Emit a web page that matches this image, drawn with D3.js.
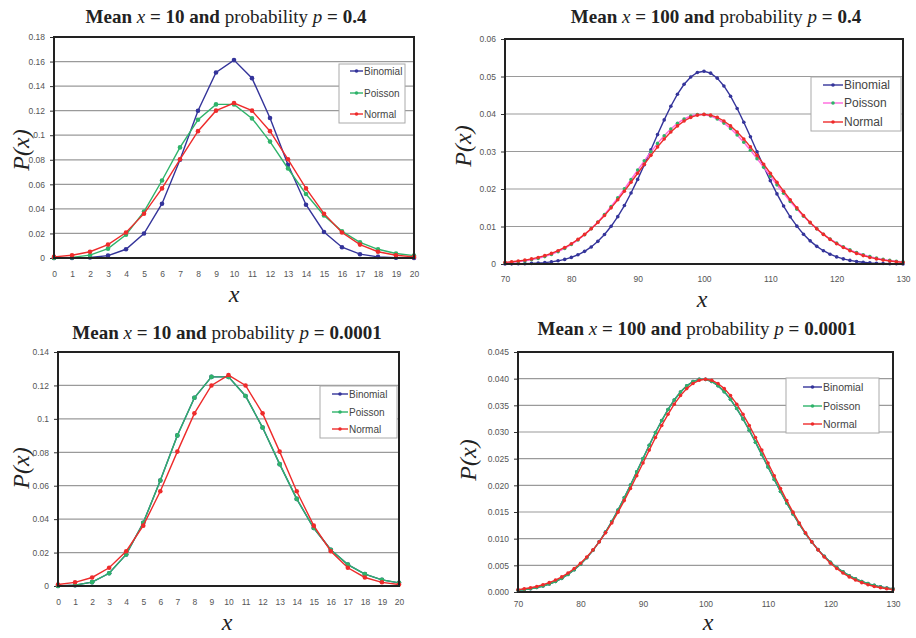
<!DOCTYPE html>
<html>
<head>
<meta charset="utf-8">
<script src="https://cdn.jsdelivr.net/npm/d3@7"></script>
<style>
  body { margin: 0; background: #fff; }
  .tick text { font-family: "Liberation Sans", Arial, sans-serif; font-size: 8.5px; fill: #555; }
  .tick line { stroke: #333; }
  .domain { display: none; }
  .title { font-family: "Liberation Serif", "Times New Roman", serif; font-size: 19px; fill: #222; }
  .axlab { font-family: "Liberation Serif", "Times New Roman", serif; font-style: italic; font-size: 24px; fill: #222; }
  .legtext { font-family: "Liberation Sans", Arial, sans-serif; fill: #444; }
</style>
</head>
<body>
<div id="chart"></div>
<script>
// x categories
var x20 = [0,1,2,3,4,5,6,7,8,9,10,11,12,13,14,15,16,17,18,19,20];
var x100 = d3.range(70, 131);

// mean 10
var binom10p4 = [0.0000,0.0000,0.0004,0.0019,0.0071,0.0199,0.0442,0.0800,0.1199,0.1511,0.1612,0.1465,0.1140,0.0760,0.0434,0.0212,0.0088,0.0031,0.0009,0.0002,0.0000];
var poisson10 = [0.0000,0.0005,0.0023,0.0076,0.0189,0.0378,0.0631,0.0901,0.1126,0.1251,0.1251,0.1137,0.0948,0.0729,0.0521,0.0347,0.0217,0.0128,0.0071,0.0037,0.0019];
var normal10 = [0.0009,0.0022,0.0051,0.0109,0.0208,0.0361,0.0567,0.0804,0.1033,0.1200,0.1262,0.1200,0.1033,0.0804,0.0567,0.0361,0.0208,0.0109,0.0051,0.0022,0.0009];
var binom10p0001 = [0.0000,0.0005,0.0023,0.0076,0.0189,0.0378,0.0631,0.0901,0.1126,0.1251,0.1251,0.1137,0.0948,0.0729,0.0521,0.0347,0.0217,0.0128,0.0071,0.0037,0.0019];

// mean 100
var binom100p4 = [0.00002,0.00004,0.00006,0.00010,0.00016,0.00025,0.00038,0.00057,0.00085,0.00123,
  0.00176,0.00246,0.00337,0.00455,0.00604,0.00786,0.01005,0.01263,0.01559,0.01892,
  0.02256,0.02645,0.03047,0.03451,0.03843,0.04207,0.04528,0.04792,0.04988,0.05106,
  0.05140,0.05089,0.04956,0.04747,0.04474,0.04147,0.03782,0.03393,0.02995,0.02601,
  0.02223,0.01869,0.01546,0.01259,0.01009,0.00795,0.00617,0.00471,0.00354,0.00262,
  0.00190,0.00136,0.00096,0.00067,0.00046,0.00031,0.00020,0.00013,0.00008,0.00005,0.00003];
var poisson100 = [0.00031,0.00044,0.00061,0.00083,0.00112,0.00150,0.00197,0.00256,0.00329,0.00416,
  0.00520,0.00642,0.00782,0.00943,0.01122,0.01320,0.01535,0.01765,0.02005,0.02253,
  0.02504,0.02751,0.02991,0.03216,0.03421,0.03601,0.03751,0.03867,0.03946,0.03986,
  0.03986,0.03947,0.03869,0.03757,0.03612,0.03440,0.03246,0.03033,0.02809,0.02577,
  0.02343,0.02111,0.01885,0.01668,0.01463,0.01272,0.01097,0.00937,0.00794,0.00668,
  0.00556,0.00460,0.00377,0.00306,0.00247,0.00198,0.00157,0.00124,0.00097,0.00075,0.00058];
var normal100 = [0.00044,0.00060,0.00079,0.00104,0.00136,0.00175,0.00224,0.00283,0.00355,0.00440,
  0.00540,0.00656,0.00790,0.00941,0.01109,0.01295,0.01497,0.01714,0.01942,0.02179,
  0.02420,0.02661,0.02897,0.03123,0.03332,0.03521,0.03683,0.03814,0.03910,0.03970,
  0.03989,0.03970,0.03910,0.03814,0.03683,0.03521,0.03332,0.03123,0.02897,0.02661,
  0.02420,0.02179,0.01942,0.01714,0.01497,0.01295,0.01109,0.00941,0.00790,0.00656,
  0.00540,0.00440,0.00355,0.00283,0.00224,0.00175,0.00136,0.00104,0.00079,0.00060,0.00044];
var binom100p0001 = poisson100.slice();

var seriesNames = ["Binomial", "Poisson", "Normal"];

var blue = "#34349a", green = "#2fb36a", red = "#ee2b2b", pink = "#ff66dd";

var svg = d3.select("#chart").append("svg")
    .attr("width", 916)
    .attr("height", 638);

var panels = [
  { l:54, r:414, t:37, b:258, x:x20, xTicks:d3.range(0,21,1), yMax:0.18, yStep:0.02, fmt:d => d === 0 ? "0" : String(+d.toFixed(2)),
    ys:[binom10p4, poisson10, normal10], lines:[blue, green, red], dots:[blue, green, red], dotR:2.3, pad:13,
    title:{cx:226, y:23, n:"10", p:"0.4"}, xlab:[234, 302], ylab:[21, 150],
    leg:{x:339, y:64, w:66, h:59, rows:[71, 93, 114], l1:350, l2:363, fs:10} },
  { l:505, r:903, t:39, b:264, x:x100, xTicks:d3.range(70,131,10), yMax:0.06, yStep:0.01, fmt:d => d === 0 ? "0" : String(+d.toFixed(2)),
    ys:[binom100p4, poisson100, normal100], lines:[blue, pink, red], dots:[blue, green, red], dotR:1.8, pad:12,
    title:{cx:716, y:23, n:"100", p:"0.4"}, xlab:[702, 307], ylab:[463, 146],
    leg:{x:811, y:77, w:90, h:54, rows:[85, 103, 122], l1:823, l2:843, fs:12} },
  { l:58, r:399, t:352, b:586, x:x20, xTicks:d3.range(0,21,1), yMax:0.14, yStep:0.02, fmt:d => d === 0 ? "0" : String(+d.toFixed(2)),
    ys:[binom10p0001, poisson10, normal10], lines:[blue, green, red], dots:[blue, green, red], dotR:2.3, pad:13,
    title:{cx:227, y:339, n:"10", p:"0.0001"}, xlab:[227, 630], ylab:[21, 468],
    leg:{x:320, y:386, w:77, h:52, rows:[394, 412, 429], l1:332, l2:348, fs:10} },
  { l:518, r:893, t:352, b:592, x:x100, xTicks:d3.range(70,131,10), yMax:0.045, yStep:0.005, fmt:d3.format(".3f"),
    ys:[binom100p0001, poisson100, normal100], lines:[blue, green, red], dots:[blue, green, red], dotR:1.8, pad:9,
    title:{cx:697, y:335, n:"100", p:"0.0001"}, xlab:[708, 630], ylab:[468, 460],
    leg:{x:786, y:378, w:93, h:55, rows:[387, 406, 424], l1:803, l2:822, fs:10.5} }
];

panels.forEach(function(p) {
    var g = svg.append("g");
    var xScale = d3.scaleLinear()
        .domain(d3.extent(p.x))
        .range([p.l, p.r]);
    var yScale = d3.scaleLinear()
        .domain([0, p.yMax])
        .range([p.b, p.t]);
    var yTicks = d3.range(0, p.yMax + p.yStep / 2, p.yStep);

    // gridlines
    g.append("g").selectAll("line")
        .data(yTicks)
        .enter()
        .append("line")
        .attr("x1", p.l).attr("x2", p.r)
        .attr("y1", d => yScale(d)).attr("y2", d => yScale(d))
        .attr("stroke", "#9a9a9a")
        .attr("stroke-width", 1.2);

    g.append("g")
        .attr("transform", `translate(${p.l},0)`)
        .call(d3.axisLeft(yScale).tickValues(yTicks).tickFormat(p.fmt).tickSize(4).tickPadding(5));
    g.append("g")
        .attr("transform", `translate(0,${p.b})`)
        .call(d3.axisBottom(xScale).tickValues(p.xTicks).tickFormat(d3.format("d")).tickSize(0).tickPadding(p.pad));

    var line = d3.line()
        .x((d, i) => xScale(p.x[i]))
        .y(d => yScale(d));

    p.ys.forEach(function(vals, s) {
        g.append("path")
            .datum(vals)
            .attr("d", line)
            .attr("fill", "none")
            .attr("stroke", p.lines[s])
            .attr("stroke-width", 1.4);
        g.append("g").selectAll("circle")
            .data(vals)
            .enter()
            .append("circle")
            .attr("cx", (d, i) => xScale(p.x[i]))
            .attr("cy", d => yScale(d))
            .attr("r", p.dotR)
            .attr("fill", p.dots[s]);
    });

    // plot frame
    g.append("rect")
        .attr("x", p.l).attr("y", p.t)
        .attr("width", p.r - p.l).attr("height", p.b - p.t)
        .attr("fill", "none")
        .attr("stroke", "#222")
        .attr("stroke-width", 2);

    // legend
    var lg = g.append("g");
    lg.append("rect")
        .attr("x", p.leg.x).attr("y", p.leg.y)
        .attr("width", p.leg.w).attr("height", p.leg.h)
        .attr("fill", "#fff")
        .attr("stroke", "#aaa");
    seriesNames.forEach(function(name, s) {
        var yy = p.leg.rows[s];
        lg.append("line")
            .attr("x1", p.leg.l1).attr("x2", p.leg.l2)
            .attr("y1", yy).attr("y2", yy)
            .attr("stroke", p.lines[s])
            .attr("stroke-width", 1.4);
        lg.append("circle")
            .attr("cx", (p.leg.l1 + p.leg.l2) / 2)
            .attr("cy", yy)
            .attr("r", 1.8)
            .attr("fill", p.dots[s]);
        lg.append("text")
            .attr("class", "legtext")
            .attr("x", p.leg.l2 + 1)
            .attr("y", yy)
            .attr("dy", "0.35em")
            .style("font-size", p.leg.fs + "px")
            .text(name);
    });

    // title
    var t = g.append("text")
        .attr("class", "title")
        .attr("x", p.title.cx)
        .attr("y", p.title.y)
        .attr("text-anchor", "middle");
    t.append("tspan").style("font-weight", "bold").text("Mean ");
    t.append("tspan").style("font-style", "italic").text("x");
    t.append("tspan").style("font-weight", "bold").text(" = " + p.title.n + " and ");
    t.append("tspan").text("probability ");
    t.append("tspan").style("font-style", "italic").text("p");
    t.append("tspan").style("font-weight", "bold").text(" = " + p.title.p);

    g.append("text")
        .attr("class", "axlab")
        .attr("x", p.xlab[0])
        .attr("y", p.xlab[1])
        .attr("text-anchor", "middle")
        .text("x");

    g.append("text")
        .attr("class", "axlab")
        .attr("transform", `translate(${p.ylab[0]},${p.ylab[1]}) rotate(-90)`)
        .attr("text-anchor", "middle")
        .attr("dy", "0.35em")
        .text("P(x)");
});
</script>
</body>
</html>
